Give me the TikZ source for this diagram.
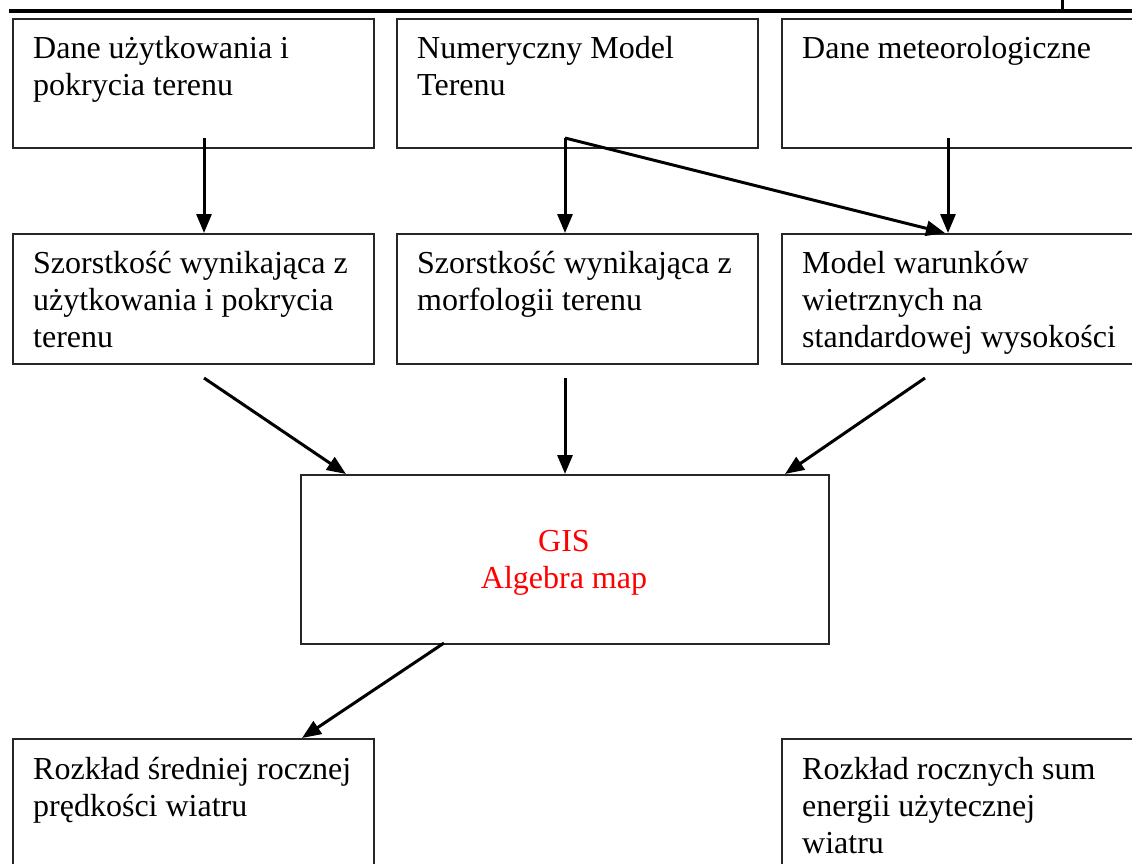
\documentclass[tikz,border=0pt]{standalone}
\usepackage{fontspec}
\setmainfont{Liberation Serif}
\usetikzlibrary{arrows.meta}
\definecolor{gisred}{RGB}{255,0,0}
\begin{document}
\begin{tikzpicture}[x=1pt,y=-1pt,
  box/.style={draw=black!85,line width=2.4pt,rectangle,inner sep=0pt,anchor=north west},
  txt/.style={anchor=base west,inner sep=0pt,font=\fontsize{32}{37}\selectfont},
  arr/.style={draw=black,line width=3pt,-{Triangle[length=19pt,width=15pt]}},
]
\useasboundingbox (0,0) rectangle (1132,863);
\clip (0,0) rectangle (1132,863);

% page rule at the top
\draw[line width=4.5pt] (9,11) -- (1132,11);
\draw[line width=3pt] (1062,0) -- (1062,11);

% input data
\node[box,minimum width=361pt,minimum height=129pt] (top1) at (12,18) {};
\node[box,minimum width=361pt,minimum height=129pt] (top2) at (396,18) {};
\node[box,minimum width=400pt,minimum height=129pt] (top3) at (781,18) {};
\node[txt] (ttop1) at (33,58) {\parbox[t]{330pt}{\raggedright Dane użytkowania i\\pokrycia terenu}};
\node[txt] (ttop2) at (417,58) {\parbox[t]{330pt}{\raggedright Numeryczny Model\\Terenu}};
\node[txt] (ttop3) at (802,58) {\parbox[t]{330pt}{\raggedright Dane meteorologiczne}};

% derived layers
\node[box,minimum width=361pt,minimum height=130pt] (mid1) at (12,233) {};
\node[box,minimum width=361pt,minimum height=130pt] (mid2) at (396,233) {};
\node[box,minimum width=400pt,minimum height=130pt] (mid3) at (781,233) {};
\node[txt] (tmid1) at (33,273) {\parbox[t]{340pt}{\raggedright Szorstkość wynikająca z\\użytkowania i pokrycia\\terenu}};
\node[txt] (tmid2) at (417,273) {\parbox[t]{340pt}{\raggedright Szorstkość wynikająca z\\morfologii terenu}};
\node[txt] (tmid3) at (802,273) {\parbox[t]{340pt}{\raggedright Model warunków\\wietrznych na\\standardowej wysokości}};

% map algebra
\node[box,minimum width=528pt,minimum height=169pt] (gis) at (300,474) {};
\node[txt,anchor=base,text=gisred] (tgis) at (564,551) {\parbox[t]{400pt}{\centering GIS\\Algebra map}};

% results
\node[box,minimum width=361pt,minimum height=200pt] (bot1) at (12,738) {};
\node[box,minimum width=400pt,minimum height=200pt] (bot2) at (781,738) {};
\node[txt] (tbot1) at (33,779) {\parbox[t]{340pt}{\raggedright Rozkład średniej rocznej\\prędkości wiatru}};
\node[txt] (tbot2) at (802,779) {\parbox[t]{330pt}{\raggedright Rozkład rocznych sum\\energii użytecznej\\wiatru}};

% connector end points
\coordinate (s1) at (204,138);
\coordinate (s2) at (565,138);
\coordinate (s3) at (948,138);
\coordinate (e23) at (945,233);
\coordinate (u1) at (204,378);
\coordinate (u2) at (565,378);
\coordinate (u3) at (925,378);
\coordinate (g1) at (346,474);
\coordinate (g3) at (785,474);
\coordinate (gout) at (444,643);
\coordinate (r1) at (302,738);

% connectors
\draw[arr] (s1) -- (s1 |- mid1.north);
\draw[arr] (s2) -- (s2 |- mid2.north);
\draw[arr] (s2) -- (e23);
\draw[arr] (s3) -- (s3 |- mid3.north);
\draw[arr] (u1) -- (g1);
\draw[arr] (u2) -- (u2 |- gis.north);
\draw[arr] (u3) -- (g3);
\draw[arr] (gout) -- (r1);
\end{tikzpicture}
\end{document}
